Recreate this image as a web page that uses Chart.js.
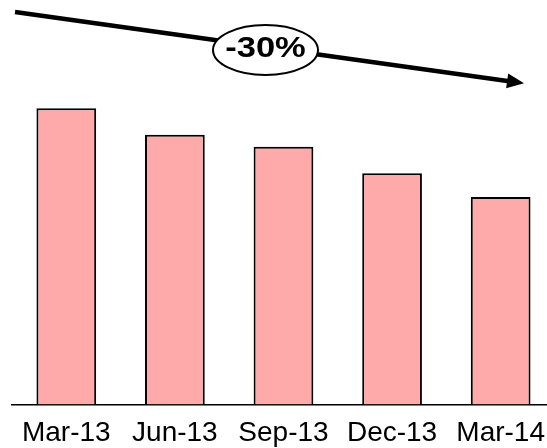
<!DOCTYPE html>
<html>
<head>
<meta charset="utf-8">
<script src="https://cdn.jsdelivr.net/npm/chart.js@4.4.0/dist/chart.umd.min.js"></script>
<style>
    html, body { margin: 0; padding: 0; background: #fff; overflow: hidden; width: 547px; height: 448px; }
    /* 画布比窗口略大，右侧和底部多出的部分被截掉 */
    #wrap { width: 557px; height: 462px; position: relative; }
</style>
</head>
<body>
<div id="wrap"><canvas id="trendChart"></canvas></div>
<script>
// 季度数据
const quarters = ['Mar-13', 'Jun-13', 'Sep-13', 'Dec-13', 'Mar-14'];
const values = [100, 91, 87, 78, 70];

// 首尾变化百分比
const changePct = Math.round((values[values.length - 1] / values[0] - 1) * 100);

// 顶部的下降箭头和椭圆标签
const trendArrow = {
    id: 'trendArrow',
    afterDraw(chart) {
        const ctx = chart.ctx;
        ctx.save();

        const x0 = 15, y0 = 12;
        const tipX = 524, tipY = 83.3;
        const ang = Math.atan2(tipY - y0, tipX - x0);
        const headLen = 17, headHalf = 7.5;
        const bx = tipX - headLen * Math.cos(ang);
        const by = tipY - headLen * Math.sin(ang);

        // 线
        ctx.strokeStyle = '#000';
        ctx.lineWidth = 4.5;
        ctx.beginPath();
        ctx.moveTo(x0, y0);
        ctx.lineTo(bx + 2 * Math.cos(ang), by + 2 * Math.sin(ang));
        ctx.stroke();

        // 箭头
        ctx.fillStyle = '#000';
        ctx.beginPath();
        ctx.moveTo(tipX, tipY);
        ctx.lineTo(bx - headHalf * Math.sin(ang), by + headHalf * Math.cos(ang));
        ctx.lineTo(bx + headHalf * Math.sin(ang), by - headHalf * Math.cos(ang));
        ctx.closePath();
        ctx.fill();

        // 椭圆
        const cx = 265.5, cy = 50;
        ctx.beginPath();
        ctx.ellipse(cx, cy, 52.5, 25, 0, 0, Math.PI * 2);
        ctx.fillStyle = '#fff';
        ctx.fill();
        ctx.lineWidth = 2;
        ctx.strokeStyle = '#000';
        ctx.stroke();

        // 文字
        ctx.translate(cx, 57);
        ctx.scale(1.15, 1);
        ctx.fillStyle = '#000';
        ctx.font = 'bold 30px "Liberation Sans", Arial, sans-serif';
        ctx.textAlign = 'center';
        ctx.textBaseline = 'alphabetic';
        ctx.fillText(changePct + '%', 0, 0);
        ctx.restore();
    }
};

const ctx = document.getElementById('trendChart').getContext('2d');
const chart = new Chart(ctx, {
    type: 'bar',
    data: {
        labels: quarters,
        datasets: [{
            data: values,
            backgroundColor: '#FFAAAA',
            borderColor: '#000',
            borderWidth: 2,
            borderSkipped: 'bottom',
            barPercentage: 0.55,
            categoryPercentage: 1
        }]
    },
    options: {
        responsive: true,
        maintainAspectRatio: false,
        animation: false,
        layout: { padding: { left: 12, right: 0, top: 0, bottom: 0 } },
        plugins: {
            legend: { display: false },
            tooltip: { enabled: false }
        },
        scales: {
            x: {
                grid: { display: false, drawTicks: false },
                border: { display: true, color: '#000', width: 1.6 },
                ticks: {
                    autoSkip: false,
                    maxRotation: 0,
                    padding: 12,
                    color: '#000',
                    font: { family: '"Liberation Sans", Arial, sans-serif', size: 28 }
                }
            },
            y: {
                display: false,
                min: 0,
                max: 136.5
            }
        }
    },
    plugins: [trendArrow]
});
</script>
</body>
</html>
